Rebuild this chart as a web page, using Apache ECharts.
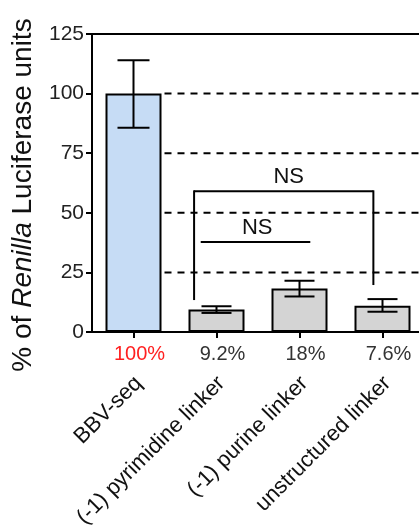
<!DOCTYPE html>
<html><head><meta charset="utf-8">
<script src="https://cdn.jsdelivr.net/npm/echarts@6/dist/echarts.min.js"></script>
<style>html,body{margin:0;padding:0;background:#fff}#c{width:419px;height:525px}</style>
</head><body><div id="c"></div>
<script>
// ---- data ----
const categories = ['BBV-seq', '(-1) pyrimidine linker', '(-1) purine linker', 'unstructured linker'];
const percentLabels = ['100%', '9.2%', '18%', '7.6%'];
const means = [100, 9.4, 18.2, 11];
const errLow = [85.7, 8.0, 14.9, 8.5];
const errHigh = [114, 10.8, 21.5, 13.8];
const barColors = ['#c6dcf5', '#d4d4d4', '#d4d4d4', '#d4d4d4'];
const gridValues = [25, 50, 75, 100];
// brackets (x in category units from first category centre)
const bracketX1 = [0.73, 0.81];
const bracketX2 = [2.89, 2.13];
const bracketY = [59, 37.8];
const bracketLeftEnd = [13.4, null];
const bracketRightEnd = [19.7, null];
const bracketLabels = ['NS', 'NS'];
const bracketLabelX = [1.87, 1.49];

const FONT = '"Liberation Sans", Arial, Helvetica, sans-serif';
const BAR_W = 56;

const chart = echarts.init(document.getElementById('c'), null, {renderer: 'canvas'});

const option = {
  animation: false,
  backgroundColor: '#fff',
  grid: [
    {left: 92, top: 34, width: 332, height: 298, show: true, borderColor: '#000', borderWidth: 2, backgroundColor: 'transparent', outerBoundsMode: 'none', containLabel: false},
    {left: 97, top: 34, width: 332, height: 298, show: false, outerBoundsMode: 'none', containLabel: false}
  ],
  xAxis: [
    {
      type: 'category', data: percentLabels, position: 'bottom', gridIndex: 0,
      axisLine: {show: true, lineStyle: {color: '#000', width: 2}},
      axisTick: {show: true, alignWithLabel: true, length: 6, lineStyle: {color: '#000', width: 2}},
      axisLabel: {
        interval: 0, margin: 12, fontSize: 20, fontFamily: FONT, color: '#333',
        padding: [0, 0, 0, 12],
        formatter: (v, i) => i === 0 ? '{r|' + v + '}' : '{k|' + v + '}',
        rich: {
          r: {color: '#ff2020', fontSize: 20, fontFamily: FONT},
          k: {color: '#333', fontSize: 20, fontFamily: FONT}
        }
      },
      splitLine: {show: false}
    },
    {
      type: 'category', data: categories, position: 'bottom', gridIndex: 1,
      axisLine: {show: false}, axisTick: {show: false},
      axisLabel: {interval: 0, rotate: 45, margin: 48, fontSize: 22, fontFamily: FONT, color: '#111'},
      splitLine: {show: false}
    }
  ],
  yAxis: [
    {
      type: 'value', min: 0, max: 125, interval: 25, gridIndex: 0,
      axisLine: {show: true, lineStyle: {color: '#000', width: 2}},
      axisTick: {show: true, length: 6, lineStyle: {color: '#000', width: 2}},
      axisLabel: {margin: 8, fontSize: 21, fontFamily: FONT, color: '#222'},
      splitLine: {show: false},
      name: '{a|% of }{b|Renilla}{a| Luciferase units}',
      nameLocation: 'middle', nameGap: 55, nameRotate: 90,
      nameTextStyle: {
        padding: [0, 24, 0, 0],
        rich: {
          a: {fontSize: 28, fontFamily: FONT, color: '#111'},
          b: {fontSize: 28, fontFamily: FONT, color: '#111', fontStyle: 'italic'}
        }
      }
    },
    {
      type: 'value', min: 0, max: 125, interval: 25, gridIndex: 1, show: false
    }
  ],
  series: [
    {
      type: 'custom', z: 1, xAxisIndex: 0, yAxisIndex: 0, silent: true,
      data: gridValues.map(v => [0, v]),
      renderItem: (params, api) => {
        const p = api.coord([api.value(0), api.value(1)]);
        const cs = params.coordSys;
        return {
          type: 'line',
          shape: {x1: p[0] + BAR_W / 2 + 3, y1: p[1], x2: cs.x + cs.width, y2: p[1]},
          style: {stroke: '#000', lineWidth: 2, lineDash: [7, 6]}
        };
      }
    },
    {
      type: 'bar', z: 2, xAxisIndex: 0, yAxisIndex: 0, barWidth: BAR_W,
      data: means.map((v, i) => ({value: v, itemStyle: {color: barColors[i]}})),
      itemStyle: {borderColor: '#000', borderWidth: 2}
    },
    {
      type: 'custom', z: 3, xAxisIndex: 0, yAxisIndex: 0, silent: true,
      data: bracketY.map((y, i) => [0, y]),
      renderItem: (params, api) => {
        const i = params.dataIndex;
        const bw = api.size([1, 0])[0];
        const base = api.coord([0, bracketY[i]]);
        const xa = base[0] + bracketX1[i] * bw;
        const xb = base[0] + bracketX2[i] * bw;
        const y = base[1];
        const children = [
          {type: 'line', shape: {x1: xa, y1: y, x2: xb, y2: y}, style: {stroke: '#000', lineWidth: 2}}
        ];
        if (bracketLeftEnd[i] != null) {
          const yl = api.coord([0, bracketLeftEnd[i]])[1];
          children.push({type: 'line', shape: {x1: xa, y1: y - 1, x2: xa, y2: yl}, style: {stroke: '#000', lineWidth: 2}});
        }
        if (bracketRightEnd[i] != null) {
          const yr = api.coord([0, bracketRightEnd[i]])[1];
          children.push({type: 'line', shape: {x1: xb, y1: y - 1, x2: xb, y2: yr}, style: {stroke: '#000', lineWidth: 2}});
        }
        children.push({
          type: 'text',
          style: {x: base[0] + bracketLabelX[i] * bw, y: y - 3, text: bracketLabels[i], align: 'center', verticalAlign: 'bottom',
                  fontSize: 22, fontFamily: FONT, fill: '#111'}
        });
        return {type: 'group', children};
      }
    },
    {
      type: 'custom', z: 4, xAxisIndex: 0, yAxisIndex: 0, silent: true,
      data: means.map((m, i) => [i, errLow[i], errHigh[i]]),
      renderItem: (params, api) => {
        const lo = api.coord([api.value(0), api.value(1)]);
        const hi = api.coord([api.value(0), api.value(2)]);
        const hw = params.dataIndex === 0 ? 16 : 15;
        const st = {stroke: '#000', lineWidth: 2};
        return {
          type: 'group',
          children: [
            {type: 'line', shape: {x1: lo[0], y1: lo[1], x2: hi[0], y2: hi[1]}, style: st},
            {type: 'line', shape: {x1: lo[0] - hw, y1: lo[1], x2: lo[0] + hw, y2: lo[1]}, style: st},
            {type: 'line', shape: {x1: hi[0] - hw, y1: hi[1], x2: hi[0] + hw, y2: hi[1]}, style: st}
          ]
        };
      }
    }
  ]
};
chart.setOption(option);
</script>
</body></html>
